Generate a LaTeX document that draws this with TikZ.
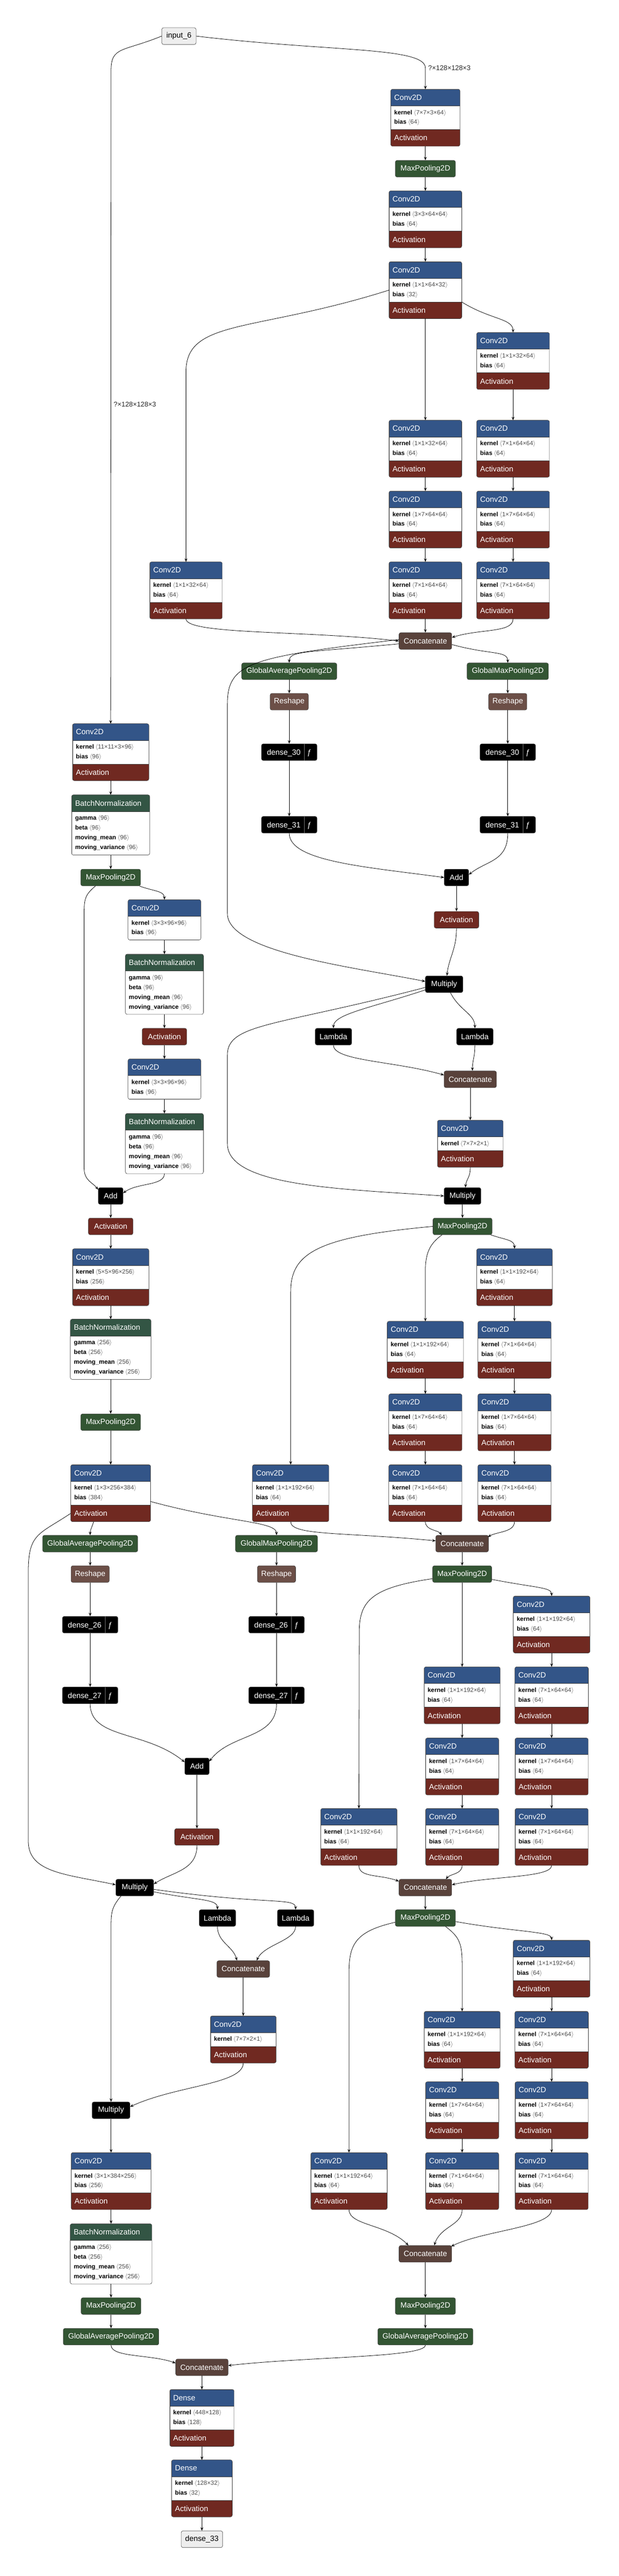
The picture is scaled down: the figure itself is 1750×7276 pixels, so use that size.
\documentclass[tikz,border=0pt]{standalone}
\usepackage{fontspec}
\setmainfont{Liberation Sans}
\usetikzlibrary{positioning,arrows.meta,calc}

\definecolor{convblue}{HTML}{335588}
\definecolor{actred}{HTML}{702921}
\definecolor{poolgreen}{HTML}{335533}
\definecolor{normgreen}{HTML}{335544}
\definecolor{catbrown}{HTML}{59423B}
\definecolor{shapebrown}{HTML}{6C4F47}
\definecolor{iogray}{HTML}{EEEEEE}
\definecolor{rimgray}{HTML}{3A3A3A}

\newcommand{\lyrfont}{\fontsize{12.3}{14}\selectfont}
\newcommand{\attrfont}{\fontsize{9.8}{15.7}\selectfont}
\newcommand{\attrline}[2]{\textbf{#1}\hspace{0.9mm}{\color{black!70}$\langle$#2$\rangle$}}
\newcommand{\fnbar}{\hspace{2mm}{\color{black!55}\vrule width 0.5pt height 6.3mm depth 3.1mm}\hspace{1.6mm}ƒ}

\tikzset{
  hdr/.style 2 args={rectangle, fill=#1, draw=rimgray, line width=0.5pt, text=white,
    font=\lyrfont, inner xsep=2mm, inner ysep=0pt, outer sep=0pt,
    text width={#2*0.2mm-4mm}, minimum height=9.4mm, align=left, anchor=north},
  attrbox/.style 2 args={rectangle, fill=white, draw=rimgray, line width=0.5pt, text=black,
    font=\attrfont, inner xsep=2mm, inner ysep=0pt, outer sep=0pt,
    text width={#1*0.2mm-4mm}, minimum height={#2*0.2mm}, align=left},
  op/.style 2 args={rectangle, rounded corners=1mm, fill=#1, draw=rimgray, line width=0.5pt,
    text=white, font=\lyrfont, inner sep=0pt, minimum width={#2*0.2mm}, minimum height=9.4mm},
  io/.style={op={iogray}{#1}, text=black},
  flow/.style={draw=black, line width=0.65pt, -{Stealth[length=2mm,width=1.6mm,inset=0.8mm]}},
  dimlabel/.style={font=\fontsize{11}{13}\selectfont, text=black!85, inner sep=1.5mm}
}

% white corners and a rounded rim round a stacked layer
\newcommand{\roundblock}[2]{%
  \fill[white, even odd rule] ([shift={(-1pt,1pt)}]#1.north west) rectangle ([shift={(1pt,-1pt)}]#2.south east)
    [rounded corners=1mm] (#1.north west) rectangle (#2.south east);
  \draw[rounded corners=1mm, draw=rimgray, line width=0.5pt] (#1.north west) rectangle (#2.south east);}

% name, x, top, width, kernel, bias
\newcommand{\convlayer}[6]{%
  \node[hdr={convblue}{#4}] (#1) at (#2,#3) {Conv2D};
  \node[attrbox={#4}{67}, below=0pt of #1] (#1b) {\attrline{kernel}{#5}\\\attrline{bias}{#6}};
  \node[hdr={actred}{#4}, below=0pt of #1b] (#1a) {Activation};
  \roundblock{#1}{#1a}}
\newcommand{\convnoact}[6]{%
  \node[hdr={convblue}{#4}] (#1) at (#2,#3) {Conv2D};
  \node[attrbox={#4}{67}, below=0pt of #1] (#1b) {\attrline{kernel}{#5}\\\attrline{bias}{#6}};
  \roundblock{#1}{#1b}}
\newcommand{\convkact}[5]{%
  \node[hdr={convblue}{#4}] (#1) at (#2,#3) {Conv2D};
  \node[attrbox={#4}{39}, below=0pt of #1] (#1b) {\attrline{kernel}{#5}};
  \node[hdr={actred}{#4}, below=0pt of #1b] (#1a) {Activation};
  \roundblock{#1}{#1a}}
\newcommand{\bnlayer}[5]{%
  \node[hdr={normgreen}{#4}] (#1) at (#2,#3) {BatchNormalization};
  \node[attrbox={#4}{123}, below=0pt of #1] (#1b) {\attrline{gamma}{#5}\\\attrline{beta}{#5}\\\attrline{moving\_mean}{#5}\\\attrline{moving\_variance}{#5}};
  \roundblock{#1}{#1b}}
\newcommand{\denselayer}[6]{%
  \node[hdr={convblue}{#4}] (#1) at (#2,#3) {Dense};
  \node[attrbox={#4}{67}, below=0pt of #1] (#1b) {\attrline{kernel}{#5}\\\attrline{bias}{#6}};
  \node[hdr={actred}{#4}, below=0pt of #1b] (#1a) {Activation};
  \roundblock{#1}{#1a}}

\begin{document}
\begin{tikzpicture}[x=0.2mm, y=-0.2mm]
  \useasboundingbox (0,0) rectangle (1750,7276);

  % Tronco de entrada
  \node[io=97] (inp) at (506,102) {input\_6};
  \convlayer{c1}{1203}{252}{196}{7×7×3×64}{64}
  \node[op={poolgreen}{170}] (mp1) at (1203,476.5) {MaxPooling2D};
  \convlayer{c2}{1203}{539}{206}{3×3×64×64}{64}
  \convlayer{c3}{1203}{739}{206}{1×1×64×32}{32}

  % Primer bloque inception
  \convlayer{c4}{1451}{939}{206}{1×1×32×64}{64}
  \convlayer{c5}{1203}{1187}{206}{1×1×32×64}{64}
  \convlayer{c6}{1451}{1187}{206}{7×1×64×64}{64}
  \convlayer{c7}{1203}{1387}{206}{1×7×64×64}{64}
  \convlayer{c8}{1451}{1387}{206}{1×7×64×64}{64}
  \convlayer{c9}{526}{1587}{205}{1×1×32×64}{64}
  \convlayer{c10}{1203}{1587}{206}{7×1×64×64}{64}
  \convlayer{c11}{1451}{1587}{206}{7×1×64×64}{64}
  \node[op={catbrown}{149}] (cat1) at (1203,1810.5) {Concatenate};

  % Primera atencion
  \node[op={poolgreen}{269}] (gap1) at (818,1896) {GlobalAveragePooling2D};
  \node[op={poolgreen}{230}] (gmp1) at (1436,1896) {GlobalMaxPooling2D};
  \node[op={shapebrown}{108}] (rs1) at (818,1982) {Reshape};
  \node[op={shapebrown}{108}] (rs2) at (1436,1982) {Reshape};
  \node[op={black}{157}] (d30a) at (818,2124.5) {dense\_30\fnbar};
  \node[op={black}{157}] (d30b) at (1436,2124.5) {dense\_30\fnbar};
  \node[op={black}{157}] (d31a) at (818,2329.5) {dense\_31\fnbar};
  \node[op={black}{157}] (d31b) at (1436,2329.5) {dense\_31\fnbar};
  \node[op={black}{69}] (add1) at (1291,2478.5) {Add};
  \node[op={actred}{126}] (act1) at (1291,2598) {Activation};
  \node[op={black}{106}] (mul1) at (1256,2780) {Multiply};
  \node[op={black}{103}] (lam1) at (943,2928) {Lambda};
  \node[op={black}{103}] (lam2) at (1343,2928) {Lambda};
  \node[op={catbrown}{148}] (cat2) at (1330,3048.5) {Concatenate};
  \convkact{c12}{1330}{3164}{186}{7×7×2×1}
  \node[op={black}{104}] (mul2) at (1308,3378) {Multiply};
  \node[op={poolgreen}{167}] (mp2) at (1308,3464) {MaxPooling2D};

  % Tronco izquierdo
  \convlayer{c13}{313}{2044}{216}{11×11×3×96}{96}
  \bnlayer{bn1}{313}{2245}{221}{96}
  \node[op={poolgreen}{169}] (mp3) at (313,2478.5) {MaxPooling2D};
  \convnoact{c14}{465}{2541}{206}{3×3×96×96}{96}
  \bnlayer{bn2}{465}{2695}{221}{96}
  \node[op={actred}{126}] (act2) at (465,2928) {Activation};
  \convnoact{c15}{465}{2991}{206}{3×3×96×96}{96}
  \bnlayer{bn3}{465}{3145}{221}{96}
  \node[op={black}{70}] (add2) at (313,3378) {Add};
  \node[op={actred}{126}] (act3) at (313,3464) {Activation};
  \convlayer{c16}{313}{3527}{216}{5×5×96×256}{256}
  \bnlayer{bn4}{313}{3726}{228}{256}
  \node[op={poolgreen}{169}] (mp4) at (313,4017) {MaxPooling2D};
  \convlayer{c17}{313}{4137}{226}{1×3×256×384}{384}

  % Segundo bloque inception
  \convlayer{c18}{1455}{3527}{214}{1×1×192×64}{64}
  \convlayer{c19}{1203}{3732}{216}{1×1×192×64}{64}
  \convlayer{c20}{1455}{3732}{207}{7×1×64×64}{64}
  \convlayer{c21}{1203}{3937}{207}{1×7×64×64}{64}
  \convlayer{c22}{1455}{3937}{207}{1×7×64×64}{64}
  \convlayer{c23}{822}{4137}{216}{1×1×192×64}{64}
  \convlayer{c24}{1203}{4137}{207}{7×1×64×64}{64}
  \convlayer{c25}{1455}{4137}{207}{7×1×64×64}{64}
  \node[op={catbrown}{149}] (cat3) at (1307,4360) {Concatenate};
  \node[op={poolgreen}{167}] (mp5) at (1307,4446) {MaxPooling2D};

  % Segunda atencion
  \node[op={poolgreen}{269}] (gap2) at (255,4360) {GlobalAveragePooling2D};
  \node[op={poolgreen}{232}] (gmp2) at (782,4360) {GlobalMaxPooling2D};
  \node[op={shapebrown}{108}] (rs3) at (255,4446) {Reshape};
  \node[op={shapebrown}{108}] (rs4) at (782,4446) {Reshape};
  \node[op={black}{157}] (d26a) at (255,4589) {dense\_26\fnbar};
  \node[op={black}{157}] (d26b) at (782,4589) {dense\_26\fnbar};
  \node[op={black}{157}] (d27a) at (255,4788.5) {dense\_27\fnbar};
  \node[op={black}{157}] (d27b) at (782,4788.5) {dense\_27\fnbar};
  \node[op={black}{69}] (add3) at (557,4989) {Add};
  \node[op={actred}{126}] (act4) at (557,5188.5) {Activation};
  \node[op={black}{107}] (mul3) at (381,5331.5) {Multiply};
  \node[op={black}{103}] (lam3) at (615,5417.5) {Lambda};
  \node[op={black}{103}] (lam4) at (836,5417.5) {Lambda};
  \node[op={catbrown}{149}] (cat4) at (688,5561.5) {Concatenate};
  \convkact{c26}{688}{5694}{186}{7×7×2×1}
  \node[op={black}{107}] (mul4) at (314,5960.5) {Multiply};
  \convlayer{c27}{314}{6080}{226}{3×1×384×256}{256}
  \bnlayer{bn5}{314}{6281}{231}{256}
  \node[op={poolgreen}{169}] (mp6) at (314,6513.5) {MaxPooling2D};
  \node[op={poolgreen}{270}] (gap3) at (314,6600) {GlobalAveragePooling2D};

  % Tercer bloque inception
  \convlayer{c28}{1560}{4508}{217}{1×1×192×64}{64}
  \convlayer{c29}{1307}{4708}{215}{1×1×192×64}{64}
  \convlayer{c30}{1560}{4708}{208}{7×1×64×64}{64}
  \convlayer{c31}{1307}{4909}{207}{1×7×64×64}{64}
  \convlayer{c32}{1560}{4909}{207}{1×7×64×64}{64}
  \convlayer{c33}{1015}{5108}{216}{1×1×192×64}{64}
  \convlayer{c34}{1307}{5108}{207}{7×1×64×64}{64}
  \convlayer{c35}{1560}{5108}{207}{7×1×64×64}{64}
  \node[op={catbrown}{149}] (cat5) at (1203,5331.5) {Concatenate};
  \node[op={poolgreen}{170}] (mp7) at (1203,5417.5) {MaxPooling2D};

  % Cuarto bloque inception
  \convlayer{c36}{1560}{5480}{217}{1×1×192×64}{64}
  \convlayer{c37}{1307}{5681}{215}{1×1×192×64}{64}
  \convlayer{c38}{1560}{5681}{208}{7×1×64×64}{64}
  \convlayer{c39}{1307}{5880}{207}{1×7×64×64}{64}
  \convlayer{c40}{1560}{5880}{207}{1×7×64×64}{64}
  \convlayer{c41}{987}{6080}{216}{1×1×192×64}{64}
  \convlayer{c42}{1307}{6080}{207}{7×1×64×64}{64}
  \convlayer{c43}{1560}{6080}{207}{7×1×64×64}{64}
  \node[op={catbrown}{149}] (cat6) at (1203,6366) {Concatenate};
  \node[op={poolgreen}{170}] (mp8) at (1203,6513.5) {MaxPooling2D};
  \node[op={poolgreen}{269}] (gap4) at (1203,6600) {GlobalAveragePooling2D};

  % Cabeza
  \node[op={catbrown}{148}] (cat7) at (571,6686.5) {Concatenate};
  \denselayer{fc1}{571}{6749}{182}{448×128}{128}
  \denselayer{fc2}{571}{6948}{172}{128×32}{32}
  \node[io=117] (out) at (571,7172) {dense\_33};

  % Conexiones del tronco
  \draw[flow] (inp.east) .. controls +(380,45) and +(0,-60) .. (1203,192)
    -- node[dimlabel, pos=0, anchor=west] {?×128×128×3} (c1.north);
  \draw[flow] (inp.west) .. controls +(-110,45) and +(0,-70) .. (314,200)
    -- node[dimlabel, pos=0.511, anchor=west] {?×128×128×3} (c13.north);
  \draw[flow] (c1a.south) -- (mp1.north);
  \draw[flow] (mp1.south) -- (c2.north);
  \draw[flow] (c2a.south) -- (c3.north);
  \draw[flow] (c3b.west) .. controls +(-380,120) and +(0,-150) .. (526,1050) -- (c9.north);
  \draw[flow] (c3a.south) -- (c5.north);
  \draw[flow] (c3a.north east) .. controls +(80,50) and +(0,-40) .. (c4.north);
  \draw[flow] (c4a.south) -- (c6.north);
  \draw[flow] (c5a.south) -- (c7.north);
  \draw[flow] (c6a.south) -- (c8.north);
  \draw[flow] (c7a.south) -- (c10.north);
  \draw[flow] (c8a.south) -- (c11.north);
  \draw[flow] (c9a.south) .. controls +(0,45) and +(-260,-30) .. (cat1.west);
  \draw[flow] (c10a.south) -- (cat1.north);
  \draw[flow] (c11a.south) .. controls +(0,40) and +(80,-25) .. ($(cat1.east)+(0,-10)$);

  % Conexiones de la primera atencion
  \draw[flow] ($(cat1.west)+(0,-4)$) .. controls +(-420,50) and +(0,-120) .. (643,1990)
    -- (643,2580) .. controls +(0,110) and +(-200,-40) .. ($(mul1.west)+(0,-8)$);
  \draw[flow] ($(cat1.west)+(0,8)$) .. controls +(-260,25) and +(0,-35) .. (gap1.north);
  \draw[flow] ($(cat1.east)+(0,10)$) .. controls +(110,30) and +(0,-35) .. (gmp1.north);
  \draw[flow] (gap1.south) -- (rs1.north);
  \draw[flow] (gmp1.south) -- (rs2.north);
  \draw[flow] (rs1.south) -- (d30a.north);
  \draw[flow] (rs2.south) -- (d30b.north);
  \draw[flow] (d30a.south) -- (d31a.north);
  \draw[flow] (d30b.south) -- (d31b.north);
  \draw[flow] (d31a.south) .. controls +(0,80) and +(-220,-30) .. (add1.west);
  \draw[flow] (d31b.south) .. controls +(0,80) and +(50,-40) .. ($(add1.east)+(0,-8)$);
  \draw[flow] (add1.south) -- (act1.north);
  \draw[flow] (act1.south) .. controls +(0,60) and +(5,-50) .. ($(mul1.north)+(8,0)$);
  \draw[flow] ($(mul1.west)+(0,9)$) .. controls +(-420,110) and +(0,-90) .. (643,2980)
    -- (643,3230) .. controls +(0,120) and +(-300,-20) .. (mul2.west);
  \draw[flow] ($(mul1.west)+(0,16)$) .. controls +(-150,50) and +(0,-40) .. (lam1.north);
  \draw[flow] ($(mul1.south)+(18,0)$) .. controls +(25,50) and +(0,-40) .. (lam2.north);
  \draw[flow] (lam1.south) .. controls +(0,45) and +(-140,-40) .. ($(cat2.west)+(0,-12)$);
  \draw[flow] (lam2.south) .. controls +(0,35) and +(0,-30) .. ($(cat2.north)+(6,0)$);
  \draw[flow] (cat2.south) -- (c12.north);
  \draw[flow] (c12a.south) .. controls +(0,30) and +(3,-25) .. ($(mul2.north)+(8,0)$);
  \draw[flow] (mul2.south) -- (mp2.north);

  % Conexiones del tronco izquierdo
  \draw[flow] (c13a.south) -- (bn1.north);
  \draw[flow] (bn1b.south) -- (mp3.north);
  \draw[flow] ($(mp3.south east)+(-4,0)$) .. controls +(40,15) and +(0,-25) .. (c14.north);
  \draw[flow] ($(mp3.south west)+(42,0)$) .. controls +(-30,25) and +(0,-40) .. (238,2580)
    -- (238,3300) .. controls +(0,35) and +(-15,-20) .. ($(add2.north west)+(0,6)$);
  \draw[flow] (c14b.south) -- (bn2.north);
  \draw[flow] (bn2b.south) -- (act2.north);
  \draw[flow] (act2.south) -- (c15.north);
  \draw[flow] (c15b.south) -- (bn3.north);
  \draw[flow] (bn3b.south) .. controls +(0,35) and +(40,-30) .. ($(add2.east)+(0,-8)$);
  \draw[flow] (add2.south) -- (act3.north);
  \draw[flow] (act3.south) -- (c16.north);
  \draw[flow] (c16a.south) -- (bn4.north);
  \draw[flow] (bn4b.south) -- (mp4.north);
  \draw[flow] (mp4.south) -- (c17.north);

  % Conexiones del segundo inception
  \draw[flow] (mp2.west) .. controls +(-330,30) and +(0,-110) .. (822,3650) -- (c23.north);
  \draw[flow] ($(mp2.south west)+(26,0)$) .. controls +(-35,25) and +(0,-50) .. (1203,3590) -- (c19.north);
  \draw[flow] ($(mp2.south east)+(-4,0)$) .. controls +(45,15) and +(0,-25) .. (c18.north);
  \draw[flow] (c18a.south) -- (c20.north);
  \draw[flow] (c19a.south) -- (c21.north);
  \draw[flow] (c20a.south) -- (c22.north);
  \draw[flow] (c21a.south) -- (c24.north);
  \draw[flow] (c22a.south) -- (c25.north);
  \draw[flow] (c23a.south) .. controls +(0,40) and +(-260,-25) .. ($(cat3.west)+(0,-8)$);
  \draw[flow] (c24a.south) .. controls +(0,25) and +(-10,-15) .. ($(cat3.north west)+(17,0)$);
  \draw[flow] (c25a.south) .. controls +(0,30) and +(25,-15) .. ($(cat3.north east)+(-2,5)$);
  \draw[flow] (cat3.south) -- (mp5.north);

  % Conexiones de la segunda atencion
  \draw[flow] (c17a.west) .. controls +(-90,60) and +(0,-110) .. (80,4440)
    -- (80,5200) .. controls +(0,90) and +(-140,-30) .. ($(mul3.west)+(0,-8)$);
  \draw[flow] ($(c17a.south)+(-48,0)$) .. controls +(-6,18) and +(0,-15) .. (gap2.north);
  \draw[flow] ($(c17b.south east)+(0,-10)$) .. controls +(220,60) and +(0,-40) .. (gmp2.north);
  \draw[flow] (gap2.south) -- (rs3.north);
  \draw[flow] (gmp2.south) -- (rs4.north);
  \draw[flow] (rs3.south) -- (d26a.north);
  \draw[flow] (rs4.south) -- (d26b.north);
  \draw[flow] (d26a.south) -- (d27a.north);
  \draw[flow] (d26b.south) -- (d27b.north);
  \draw[flow] (d27a.south) .. controls +(0,100) and +(-110,-90) .. ($(add3.north west)+(0,12)$);
  \draw[flow] (d27b.south) .. controls +(0,100) and +(60,-80) .. ($(add3.north east)+(0,10)$);
  \draw[flow] (add3.south) -- (act4.north);
  \draw[flow] (act4.south) .. controls +(0,70) and +(55,-35) .. ($(mul3.east)+(0,-10)$);
  \draw[flow] ($(mul3.south west)+(15,0)$) .. controls +(-25,30) and +(0,-40) .. (314,5440) -- (mul4.north);
  \draw[flow] ($(mul3.east)+(0,12)$) .. controls +(130,25) and +(0,-30) .. (lam3.north);
  \draw[flow] ($(mul3.east)+(0,5)$) .. controls +(320,45) and +(0,-35) .. (lam4.north);
  \draw[flow] (lam3.south) .. controls +(0,45) and +(-10,-40) .. ($(cat4.north)+(-18,0)$);
  \draw[flow] (lam4.south) .. controls +(0,40) and +(20,-45) .. ($(cat4.north)+(38,0)$);
  \draw[flow] (cat4.south) -- (c26.north);
  \draw[flow] (c26a.south) .. controls +(0,60) and +(130,-60) .. ($(mul4.east)+(0,-10)$);
  \draw[flow] (mul4.south) -- (c27.north);
  \draw[flow] (c27a.south) -- (bn5.north);
  \draw[flow] (bn5b.south) -- (mp6.north);
  \draw[flow] (mp6.south) -- (gap3.north);

  % Conexiones del tercer inception
  \draw[flow] ($(mp5.west)+(0,13)$) .. controls +(-170,25) and +(0,-90) .. (1016,4610) -- (c33.north);
  \draw[flow] (mp5.south) -- (c29.north);
  \draw[flow] ($(mp5.east)+(0,15)$) .. controls +(130,25) and +(0,-25) .. (c28.north);
  \draw[flow] (c28a.south) -- (c30.north);
  \draw[flow] (c29a.south) -- (c31.north);
  \draw[flow] (c30a.south) -- (c32.north);
  \draw[flow] (c31a.south) -- (c34.north);
  \draw[flow] (c32a.south) -- (c35.north);
  \draw[flow] (c33a.south) .. controls +(0,35) and +(-55,-20) .. ($(cat5.north west)+(0,6)$);
  \draw[flow] (c34a.south) .. controls +(0,25) and +(12,-15) .. ($(cat5.north)+(58,0)$);
  \draw[flow] (c35a.south) .. controls +(0,35) and +(110,-25) .. ($(cat5.east)+(0,-8)$);
  \draw[flow] (cat5.south) -- (mp7.north);

  % Conexiones del cuarto inception
  \draw[flow] ($(mp7.west)+(0,12)$) .. controls +(-110,25) and +(0,-80) .. (987,5570) -- (c41.north);
  \draw[flow] ($(mp7.south)+(57,0)$) .. controls +(40,30) and +(0,-60) .. (1307,5550) -- (c37.north);
  \draw[flow] ($(mp7.east)+(0,10)$) .. controls +(170,30) and +(0,-25) .. (c36.north);
  \draw[flow] (c36a.south) -- (c38.north);
  \draw[flow] (c37a.south) -- (c39.north);
  \draw[flow] (c38a.south) -- (c40.north);
  \draw[flow] (c39a.south) -- (c42.north);
  \draw[flow] (c40a.south) -- (c43.north);
  \draw[flow] (c41a.south) .. controls +(0,45) and +(-60,-60) .. ($(cat6.north west)+(27,0)$);
  \draw[flow] (c42a.south) .. controls +(0,45) and +(18,-55) .. ($(cat6.north)+(25,0)$);
  \draw[flow] (c43a.south) .. controls +(0,50) and +(90,-45) .. ($(cat6.north east)+(-2,3)$);
  \draw[flow] (cat6.south) -- (mp8.north);
  \draw[flow] (mp8.south) -- (gap4.north);

  % Conexiones de la cabeza
  \draw[flow] (gap3.south) .. controls +(0,35) and +(-70,-25) .. ($(cat7.west)+(0,-12)$);
  \draw[flow] (gap4.south) .. controls +(0,35) and +(220,-25) .. ($(cat7.east)+(0,-5)$);
  \draw[flow] (cat7.south) -- (fc1.north);
  \draw[flow] (fc1a.south) -- (fc2.north);
  \draw[flow] (fc2a.south) -- (out.north);
\end{tikzpicture}
\end{document}
